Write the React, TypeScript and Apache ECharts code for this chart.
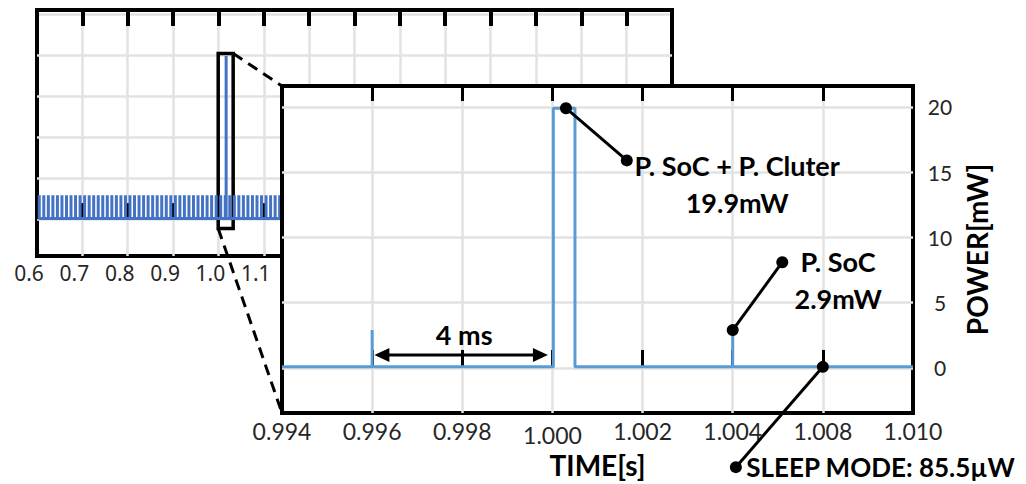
import React, { useEffect, useRef } from "react";
import * as echarts from "echarts";

// ---------- Overview (background) chart data ----------
const overviewStart = 0.605; // s, first SoC pulse
const overviewEnd = 2.0; // s
const overviewPulsePeriod = 0.01; // s, spacing of the SoC pulses as drawn
const overviewPulsePower = 2.9; // mW
const sleepPower = 0.0855; // mW (85.5 µW)
const overviewBurstTime = 1.017; // s
const overviewBurstPower = 19.9; // mW

// ---------- Zoomed chart data (time in ms) ----------
const zoomTime = [994, 996, 996, 996, 1000.02, 1000.02, 1000.5, 1000.5, 1004, 1004, 1004, 1008];
const zoomPower = [sleepPower, sleepPower, 2.9, sleepPower, sleepPower, 19.9, 19.9, sleepPower, sleepPower, 2.9, sleepPower, sleepPower];
const zoomTickLabels = ["0.994", "0.996", "0.998", "1.000", "1.002", "1.004", "1.008", "1.010"];
const zoomTickLowered = "1.000";

// inset box on the overview chart (s, mW)
const insetFrom = [0.9995, -1.15];
const insetTo = [1.0325, 20.2];

// "4 ms" arrow (ms, mW)
const arrowFrom = [996.05, 1.0];
const arrowTo = [999.9, 1.0];
const arrowLabel = "4 ms";

// callouts (ms, mW)
const calloutFrom = [[1000.3, 19.9], [1004, 2.9], [1006, sleepPower]];
const calloutTo = [[1001.65, 15.9], [1005.1, 8.1], [1004.07, -7.6]];
const calloutText = ["P. SoC + P. Cluter\n19.9mW", "P. SoC\n2.9mW", "SLEEP MODE: 85.5µW"];
const calloutTextAt = [[1004.1, 14.1], [1006.34, 6.74], [1004.3, -7.6]];
const calloutAlign = ["center", "center", "left"];

const FONT = "Lato, 'Open Sans', sans-serif";

function buildOverview(): number[][] {
  const pts: number[][] = [];
  const n = Math.round((overviewEnd - overviewStart) / overviewPulsePeriod);
  let burstDone = false;
  for (let i = 0; i <= n; i++) {
    const t = overviewStart + i * overviewPulsePeriod;
    if (!burstDone && t > overviewBurstTime) {
      pts.push([overviewBurstTime, sleepPower], [overviewBurstTime, overviewBurstPower], [overviewBurstTime, sleepPower]);
      burstDone = true;
    }
    pts.push([t, sleepPower], [t, overviewPulsePower], [t, sleepPower]);
  }
  return pts;
}

export default function App() {
  const ref = useRef<HTMLDivElement>(null);
  useEffect(() => {
    const el = ref.current!;
    const chart = echarts.init(el, null, { renderer: "svg" });
    const zoomData = zoomTime.map((t, i) => [t, zoomPower[i]]);
    const gridLine = { color: "#E2E2E2", width: 2.5 };
    const option: any = {
      animation: false,
      backgroundColor: "#fff",
      grid: [
        { left: 37, top: 10, width: 635, height: 246, show: true, borderColor: "#000", borderWidth: 4, backgroundColor: "#fff", z: 0 },
        { left: 282, top: 86, width: 631, height: 327, show: true, borderColor: "#000", borderWidth: 4, backgroundColor: "#fff", z: 10 },
      ],
      xAxis: [
        {
          gridIndex: 0, type: "value", position: "bottom", min: 0.6, max: 2.0, interval: 0.1,
          axisLine: { show: false },
          axisTick: { show: true, inside: true, length: 16, lineStyle: { color: "#000", width: 4 } },
          splitLine: { show: true, showMinLine: false, showMaxLine: false, lineStyle: gridLine },
          axisLabel: { show: true, formatter: (v: number) => v.toFixed(1), fontSize: 21, color: "#262626", fontFamily: "'Noto Sans', sans-serif", margin: 6, padding: [0, 16, 0, 0] },
          z: 0,
        },
        {
          gridIndex: 0, type: "value", position: "top", min: 0.6, max: 2.0, interval: 0.1,
          axisLine: { show: false },
          axisTick: { show: true, inside: true, length: 16, lineStyle: { color: "#000", width: 4 } },
          splitLine: { show: false }, axisLabel: { show: false }, z: 0,
        },
        {
          gridIndex: 1, type: "value", position: "bottom", min: 994, max: 1008, interval: 2,
          axisLine: { show: false },
          axisTick: { show: true, inside: true, length: 18, lineStyle: { color: "#000", width: 3 } },
          splitLine: { show: true, showMinLine: false, showMaxLine: false, lineStyle: gridLine },
          axisLabel: {
            show: true, fontSize: 23, color: "#262626", fontFamily: FONT, margin: 6,
            formatter: (v: number) => {
              const s = zoomTickLabels[Math.round((v - 994) / 2)] ?? "";
              return s === zoomTickLowered ? `{low|${s}}` : s;
            },
            rich: { low: { fontSize: 23, color: "#262626", fontFamily: FONT, padding: [4, 0, 0, 0] } },
          },
          name: "TIME[s]", nameLocation: "middle", nameGap: 25,
          nameTextStyle: { fontSize: 28, fontWeight: "bold", color: "#000", fontFamily: FONT },
          z: 11,
        },
        {
          gridIndex: 1, type: "value", position: "top", min: 994, max: 1008, interval: 2,
          axisLine: { show: false },
          axisTick: { show: true, inside: true, length: 15, lineStyle: { color: "#000", width: 3 } },
          splitLine: { show: false }, axisLabel: { show: false }, z: 11,
        },
      ],
      yAxis: [
        {
          gridIndex: 0, type: "value", min: -4.5, max: 25.5, splitNumber: 6,
          axisLine: { show: false }, axisTick: { show: false }, axisLabel: { show: false },
          splitLine: { show: true, showMinLine: false, showMaxLine: false, lineStyle: gridLine },
          z: 0,
        },
        {
          gridIndex: 1, type: "value", position: "right", min: -3.45, max: 21.6, splitNumber: 5,
          axisLine: { show: false }, axisTick: { show: false },
          axisLabel: { show: true, showMinLabel: false, showMaxLabel: false, align: "center", margin: 27, fontSize: 21, color: "#262626", fontFamily: FONT },
          splitLine: { show: true, showMinLine: false, showMaxLine: false, lineStyle: gridLine },
          name: "POWER[mW]", nameLocation: "middle", nameGap: 46, nameRotate: 90,
          nameTextStyle: { fontSize: 28, fontWeight: "bold", color: "#000", fontFamily: FONT },
          z: 11,
        },
      ],
      series: [
        {
          type: "line", xAxisIndex: 0, yAxisIndex: 0, data: buildOverview(), symbol: "none", showSymbol: false,
          lineStyle: { color: "#4472C4", width: 3 }, z: 2, silent: true,
          markArea: {
            silent: true,
            itemStyle: { color: "rgba(0,0,0,0)", borderColor: "#000", borderWidth: 3.5 },
            data: [[{ coord: insetFrom }, { coord: insetTo }]],
          },
        },
        {
          type: "line", xAxisIndex: 2, yAxisIndex: 1, data: zoomData, symbol: "none", showSymbol: false,
          lineStyle: { color: "#5B9BD5", width: 3 }, z: 12, silent: true,
        },
      ],
    };
    chart.setOption(option);

    const P = (p: number[]) => chart.convertToPixel({ seriesIndex: 1 }, p) as number[];
    const Q = (p: number[]) => chart.convertToPixel({ seriesIndex: 0 }, p) as number[];
    const graphics: any[] = [];
    const dash = { stroke: "#000", lineWidth: 3, lineDash: [11, 7] };
    const a1 = Q(insetTo);
    const b1 = P([994, 21.6]);
    const a2 = Q(insetFrom);
    const b2 = P([994, -3.45]);
    graphics.push({ type: "line", z: 30, shape: { x1: a1[0], y1: a1[1], x2: b1[0], y2: b1[1] }, style: dash, silent: true });
    graphics.push({ type: "line", z: 30, shape: { x1: a2[0], y1: a2[1], x2: b2[0], y2: b2[1] }, style: dash, silent: true });

    // 4 ms double arrow
    const s = P(arrowFrom);
    const e = P(arrowTo);
    const hl = 15, hw = 7;
    graphics.push({ type: "line", z: 40, shape: { x1: s[0] + hl - 2, y1: s[1], x2: e[0] - hl + 2, y2: e[1] }, style: { stroke: "#000", lineWidth: 3 }, silent: true });
    graphics.push({ type: "polygon", z: 40, shape: { points: [[s[0], s[1]], [s[0] + hl, s[1] - hw], [s[0] + hl, s[1] + hw]] }, style: { fill: "#000" }, silent: true });
    graphics.push({ type: "polygon", z: 40, shape: { points: [[e[0], e[1]], [e[0] - hl, e[1] - hw], [e[0] - hl, e[1] + hw]] }, style: { fill: "#000" }, silent: true });
    graphics.push({
      type: "text", z: 42, x: (s[0] + e[0]) / 2 + 3, y: s[1] - 20, silent: true,
      style: { text: arrowLabel, fill: "#000", fontSize: 27, fontWeight: "bold", fontFamily: FONT, align: "center", verticalAlign: "middle" },
    });

    calloutFrom.forEach((f, i) => {
      const p1 = P(f);
      const p2 = P(calloutTo[i]);
      const tp = P(calloutTextAt[i]);
      graphics.push({ type: "line", z: 40, shape: { x1: p1[0], y1: p1[1], x2: p2[0], y2: p2[1] }, style: { stroke: "#000", lineWidth: 3 }, silent: true });
      graphics.push({ type: "circle", z: 41, shape: { cx: p1[0], cy: p1[1], r: 6 }, style: { fill: "#000" }, silent: true });
      graphics.push({ type: "circle", z: 41, shape: { cx: p2[0], cy: p2[1], r: 6 }, style: { fill: "#000" }, silent: true });
      graphics.push({
        type: "text", z: 42, x: tp[0], y: tp[1], silent: true,
        style: { text: calloutText[i], fill: "#000", fontSize: i === 2 ? 26 : 27, fontWeight: "bold", fontFamily: FONT, align: calloutAlign[i], verticalAlign: "middle", lineHeight: 37 },
      });
    });
    chart.setOption({ graphic: graphics });
    return () => chart.dispose();
  }, []);
  return <div ref={ref} style={{ position: "fixed", left: 0, top: 0, width: 1026, height: 484, background: "#fff" }} />;
}
